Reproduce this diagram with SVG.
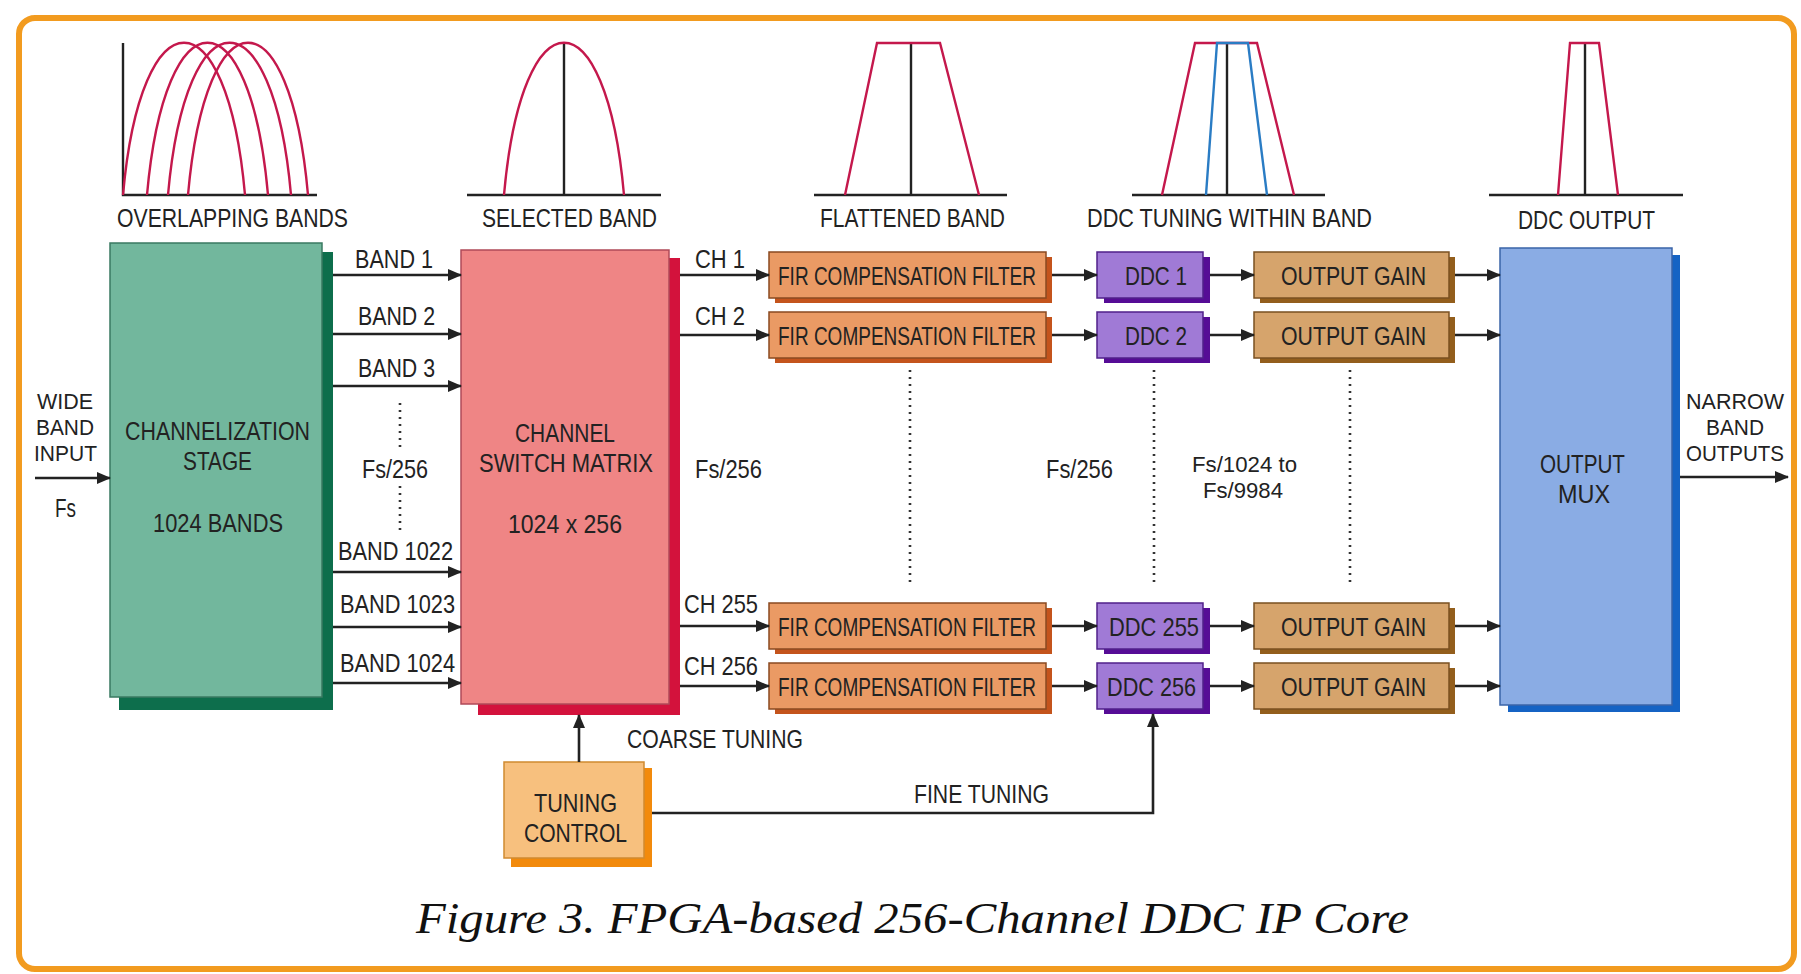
<svg xmlns="http://www.w3.org/2000/svg" width="1801" height="974" viewBox="0 0 1801 974">
<defs>
<style>
.t{font-family:"Liberation Sans",Arial,sans-serif;font-size:26px;fill:#222}
.s{font-size:22px}
.cap{font-family:"Liberation Serif","Times New Roman",serif;font-style:italic;font-size:44px;fill:#111}
.ln{stroke:#222;stroke-width:2.6;fill:none}
.dot{stroke:#333;stroke-width:2.6;fill:none;stroke-dasharray:2 5}
.ax{stroke:#222;stroke-width:2.4;fill:none}
.rc{stroke:#c4184c;stroke-width:2.4;fill:none}
.bc{stroke:#2a7cc4;stroke-width:2.4;fill:none}
.gS{fill:#0d6e4c}.gF{fill:#72b79d;stroke:#3a7a62;stroke-width:1.5}
.pS{fill:#d3123c}.pF{fill:#ef8585;stroke:#b04a58;stroke-width:1.5}
.fS{fill:#c4541c}.fF{fill:#ea9a64;stroke:#8a4a20;stroke-width:1.5}
.dS{fill:#560c96}.dF{fill:#a07ad6;stroke:#50208a;stroke-width:1.5}
.oS{fill:#935e1c}.oF{fill:#d6a46c;stroke:#7a5020;stroke-width:1.5}
.mS{fill:#1563c4}.mF{fill:#8aace4;stroke:#3a64a8;stroke-width:1.5}
.cS{fill:#f28a0c}.cF{fill:#f7c07e;stroke:#d08a30;stroke-width:1.5}
</style>
<marker id="ah" markerUnits="userSpaceOnUse" markerWidth="14" markerHeight="12" viewBox="0 0 14 12" refX="13" refY="6" orient="auto">
<path d="M0,0 L14,6 L0,12 z" fill="#222"/>
</marker>
</defs>
<rect x="0" y="0" width="1801" height="974" fill="#fff"/>
<rect x="19" y="18" width="1775" height="951" rx="16" fill="#fff" stroke="#f29b1f" stroke-width="6"/>

<g id="spectra">
<g id="overlapping-bands">
<path class="ax" d="M123,43 V195 H317"/>
<path class="rc" d="M123,195 C141,-8 227,-8 245,195"/>
<path class="rc" d="M147,195 C165,-8 250,-8 268,195"/>
<path class="rc" d="M168,195 C186,-8 273,-8 291,195"/>
<path class="rc" d="M188,195 C206,-8 290,-8 308,195"/>
<text class="t" x="117" y="227" textLength="231" lengthAdjust="spacingAndGlyphs">OVERLAPPING BANDS</text>
</g>
<g id="selected-band">
<path class="ax" d="M467,195 H661 M564,43 V195"/>
<path class="rc" d="M504,195 C522,-8 606,-8 624,195"/>
<text class="t" x="482" y="227" textLength="175" lengthAdjust="spacingAndGlyphs">SELECTED BAND</text>
</g>
<g id="flattened-band">
<path class="ax" d="M814,195 H1007 M911,43 V195"/>
<path class="rc" d="M845,195 L877,43 H940 L979,195"/>
<text class="t" x="820" y="227" textLength="185" lengthAdjust="spacingAndGlyphs">FLATTENED BAND</text>
</g>
<g id="ddc-tuning">
<path class="ax" d="M1132,195 H1325 M1227,43 V195"/>
<path class="rc" d="M1162,195 L1195,43 H1257 L1294,195"/>
<path class="bc" d="M1206,195 L1217,43 H1248 L1267,195"/>
<text class="t" x="1087" y="227" textLength="285" lengthAdjust="spacingAndGlyphs">DDC TUNING WITHIN BAND</text>
</g>
<g id="ddc-output">
<path class="ax" d="M1489,195 H1683 M1585,43 V195"/>
<path class="rc" d="M1558,195 L1570,43 H1599 L1618,195"/>
<text class="t" x="1518" y="229" textLength="137" lengthAdjust="spacingAndGlyphs">DDC OUTPUT</text>
</g>
</g>

<g id="channelization">
<rect class="gS" x="119" y="252" width="214" height="458"/>
<rect class="gF" x="110" y="243" width="212" height="454"/>
<text class="t" x="125" y="440" textLength="185" lengthAdjust="spacingAndGlyphs">CHANNELIZATION</text>
<text class="t" x="183" y="470" textLength="69" lengthAdjust="spacingAndGlyphs">STAGE</text>
<text class="t" x="153" y="532" textLength="130" lengthAdjust="spacingAndGlyphs">1024 BANDS</text>
</g>

<g id="switch-matrix">
<rect class="pS" x="478" y="258" width="202" height="457"/>
<rect class="pF" x="461" y="250" width="208" height="454"/>
<text class="t" x="515" y="442" textLength="100" lengthAdjust="spacingAndGlyphs">CHANNEL</text>
<text class="t" x="479" y="472" textLength="174" lengthAdjust="spacingAndGlyphs">SWITCH MATRIX</text>
<text class="t" x="508" y="533" textLength="114" lengthAdjust="spacingAndGlyphs">1024 x 256</text>
</g>

<g id="fir-1">
<rect class="fS" x="775" y="257" width="277" height="46"/>
<rect class="fF" x="769" y="252" width="277" height="46"/>
<text class="t" transform="translate(778,285) scale(0.731,1)" x="0" y="0">FIR COMPENSATION FILTER</text>
</g>
<g id="fir-2">
<rect class="fS" x="775" y="317" width="277" height="46"/>
<rect class="fF" x="769" y="312" width="277" height="46"/>
<text class="t" transform="translate(778,345) scale(0.731,1)" x="0" y="0">FIR COMPENSATION FILTER</text>
</g>
<g id="fir-255">
<rect class="fS" x="775" y="608" width="277" height="46"/>
<rect class="fF" x="769" y="603" width="277" height="46"/>
<text class="t" transform="translate(778,636) scale(0.731,1)" x="0" y="0">FIR COMPENSATION FILTER</text>
</g>
<g id="fir-256">
<rect class="fS" x="775" y="668" width="277" height="46"/>
<rect class="fF" x="769" y="663" width="277" height="46"/>
<text class="t" transform="translate(778,696) scale(0.731,1)" x="0" y="0">FIR COMPENSATION FILTER</text>
</g>

<g id="ddc-1">
<rect class="dS" x="1104" y="257" width="106" height="46"/>
<rect class="dF" x="1097" y="252" width="106" height="46"/>
<text class="t" x="1125" y="285" textLength="62" lengthAdjust="spacingAndGlyphs">DDC 1</text>
</g>
<g id="ddc-2">
<rect class="dS" x="1104" y="317" width="106" height="46"/>
<rect class="dF" x="1097" y="312" width="106" height="46"/>
<text class="t" x="1125" y="345" textLength="62" lengthAdjust="spacingAndGlyphs">DDC 2</text>
</g>
<g id="ddc-255">
<rect class="dS" x="1104" y="608" width="106" height="46"/>
<rect class="dF" x="1097" y="603" width="106" height="46"/>
<text class="t" x="1109" y="636" textLength="90" lengthAdjust="spacingAndGlyphs">DDC 255</text>
</g>
<g id="ddc-256">
<rect class="dS" x="1104" y="668" width="106" height="46"/>
<rect class="dF" x="1097" y="663" width="106" height="46"/>
<text class="t" x="1107" y="696" textLength="89" lengthAdjust="spacingAndGlyphs">DDC 256</text>
</g>

<g id="gain-1">
<rect class="oS" x="1260" y="257" width="195" height="46"/>
<rect class="oF" x="1254" y="252" width="195" height="46"/>
<text class="t" x="1281" y="285" textLength="145" lengthAdjust="spacingAndGlyphs">OUTPUT GAIN</text>
</g>
<g id="gain-2">
<rect class="oS" x="1260" y="317" width="195" height="46"/>
<rect class="oF" x="1254" y="312" width="195" height="46"/>
<text class="t" x="1281" y="345" textLength="145" lengthAdjust="spacingAndGlyphs">OUTPUT GAIN</text>
</g>
<g id="gain-255">
<rect class="oS" x="1260" y="608" width="195" height="46"/>
<rect class="oF" x="1254" y="603" width="195" height="46"/>
<text class="t" x="1281" y="636" textLength="145" lengthAdjust="spacingAndGlyphs">OUTPUT GAIN</text>
</g>
<g id="gain-256">
<rect class="oS" x="1260" y="668" width="195" height="46"/>
<rect class="oF" x="1254" y="663" width="195" height="46"/>
<text class="t" x="1281" y="696" textLength="145" lengthAdjust="spacingAndGlyphs">OUTPUT GAIN</text>
</g>

<g id="output-mux">
<rect class="mS" x="1508" y="255" width="172" height="457"/>
<rect class="mF" x="1500" y="248" width="172" height="457"/>
<text class="t" x="1540" y="473" textLength="85" lengthAdjust="spacingAndGlyphs">OUTPUT</text>
<text class="t" x="1558" y="503" textLength="52" lengthAdjust="spacingAndGlyphs">MUX</text>
</g>

<g id="tuning-control">
<rect class="cS" x="511" y="768" width="141" height="99"/>
<rect class="cF" x="504" y="762" width="140" height="96"/>
<text class="t" x="534" y="812" textLength="83" lengthAdjust="spacingAndGlyphs">TUNING</text>
<text class="t" x="524" y="842" textLength="103" lengthAdjust="spacingAndGlyphs">CONTROL</text>
</g>

<g id="connectors">
<path class="ln" marker-end="url(#ah)" d="M35,478 H110"/>
<path class="ln" marker-end="url(#ah)" d="M333,275 H461"/>
<path class="ln" marker-end="url(#ah)" d="M333,334 H461"/>
<path class="ln" marker-end="url(#ah)" d="M333,386 H461"/>
<path class="ln" marker-end="url(#ah)" d="M333,572 H461"/>
<path class="ln" marker-end="url(#ah)" d="M333,627 H461"/>
<path class="ln" marker-end="url(#ah)" d="M333,683 H461"/>
<path class="ln" marker-end="url(#ah)" d="M680,275 H769"/>
<path class="ln" marker-end="url(#ah)" d="M680,335 H769"/>
<path class="ln" marker-end="url(#ah)" d="M680,626 H769"/>
<path class="ln" marker-end="url(#ah)" d="M680,686 H769"/>
<path class="ln" marker-end="url(#ah)" d="M1052,275 H1097"/>
<path class="ln" marker-end="url(#ah)" d="M1052,335 H1097"/>
<path class="ln" marker-end="url(#ah)" d="M1052,626 H1097"/>
<path class="ln" marker-end="url(#ah)" d="M1052,686 H1097"/>
<path class="ln" marker-end="url(#ah)" d="M1210,275 H1254"/>
<path class="ln" marker-end="url(#ah)" d="M1210,335 H1254"/>
<path class="ln" marker-end="url(#ah)" d="M1210,626 H1254"/>
<path class="ln" marker-end="url(#ah)" d="M1210,686 H1254"/>
<path class="ln" marker-end="url(#ah)" d="M1455,275 H1500"/>
<path class="ln" marker-end="url(#ah)" d="M1455,335 H1500"/>
<path class="ln" marker-end="url(#ah)" d="M1455,626 H1500"/>
<path class="ln" marker-end="url(#ah)" d="M1455,686 H1500"/>
<path class="ln" marker-end="url(#ah)" d="M1680,477 H1788"/>
<path class="ln" marker-end="url(#ah)" d="M579,762 V715"/>
<path class="ln" marker-end="url(#ah)" d="M652,813 H1153 V714"/>
<path class="dot" d="M400,403 V450 M400,486 V530"/>
<path class="dot" d="M910,370 V583"/>
<path class="dot" d="M1154,370 V583"/>
<path class="dot" d="M1350,370 V583"/>
</g>

<g id="labels">
<text class="t s" x="37" y="409" textLength="56" lengthAdjust="spacingAndGlyphs">WIDE</text>
<text class="t s" x="36" y="435" textLength="58" lengthAdjust="spacingAndGlyphs">BAND</text>
<text class="t s" x="34" y="461" textLength="63" lengthAdjust="spacingAndGlyphs">INPUT</text>
<text class="t" x="55" y="517" textLength="21" lengthAdjust="spacingAndGlyphs">Fs</text>
<text class="t" x="355" y="268" textLength="78" lengthAdjust="spacingAndGlyphs">BAND 1</text>
<text class="t" x="358" y="325" textLength="77" lengthAdjust="spacingAndGlyphs">BAND 2</text>
<text class="t" x="358" y="377" textLength="77" lengthAdjust="spacingAndGlyphs">BAND 3</text>
<text class="t" x="362" y="478" textLength="66" lengthAdjust="spacingAndGlyphs">Fs/256</text>
<text class="t" x="338" y="560" textLength="115" lengthAdjust="spacingAndGlyphs">BAND 1022</text>
<text class="t" x="340" y="613" textLength="115" lengthAdjust="spacingAndGlyphs">BAND 1023</text>
<text class="t" x="340" y="672" textLength="115" lengthAdjust="spacingAndGlyphs">BAND 1024</text>
<text class="t" x="695" y="268" textLength="50" lengthAdjust="spacingAndGlyphs">CH 1</text>
<text class="t" x="695" y="325" textLength="50" lengthAdjust="spacingAndGlyphs">CH 2</text>
<text class="t" x="684" y="613" textLength="74" lengthAdjust="spacingAndGlyphs">CH 255</text>
<text class="t" x="684" y="675" textLength="74" lengthAdjust="spacingAndGlyphs">CH 256</text>
<text class="t" x="695" y="478" textLength="67" lengthAdjust="spacingAndGlyphs">Fs/256</text>
<text class="t" x="1046" y="478" textLength="67" lengthAdjust="spacingAndGlyphs">Fs/256</text>
<text class="t s" x="1192" y="472" textLength="105" lengthAdjust="spacingAndGlyphs">Fs/1024 to</text>
<text class="t s" x="1203" y="498" textLength="80" lengthAdjust="spacingAndGlyphs">Fs/9984</text>
<text class="t s" x="1686" y="409" textLength="98" lengthAdjust="spacingAndGlyphs">NARROW</text>
<text class="t s" x="1706" y="435" textLength="58" lengthAdjust="spacingAndGlyphs">BAND</text>
<text class="t s" x="1686" y="461" textLength="98" lengthAdjust="spacingAndGlyphs">OUTPUTS</text>
<text class="t" x="627" y="748" textLength="176" lengthAdjust="spacingAndGlyphs">COARSE TUNING</text>
<text class="t" x="914" y="803" textLength="135" lengthAdjust="spacingAndGlyphs">FINE TUNING</text>
<text class="cap" x="416" y="933" textLength="993" lengthAdjust="spacingAndGlyphs">Figure 3. FPGA-based 256-Channel DDC IP Core</text>
</g>
</svg>
